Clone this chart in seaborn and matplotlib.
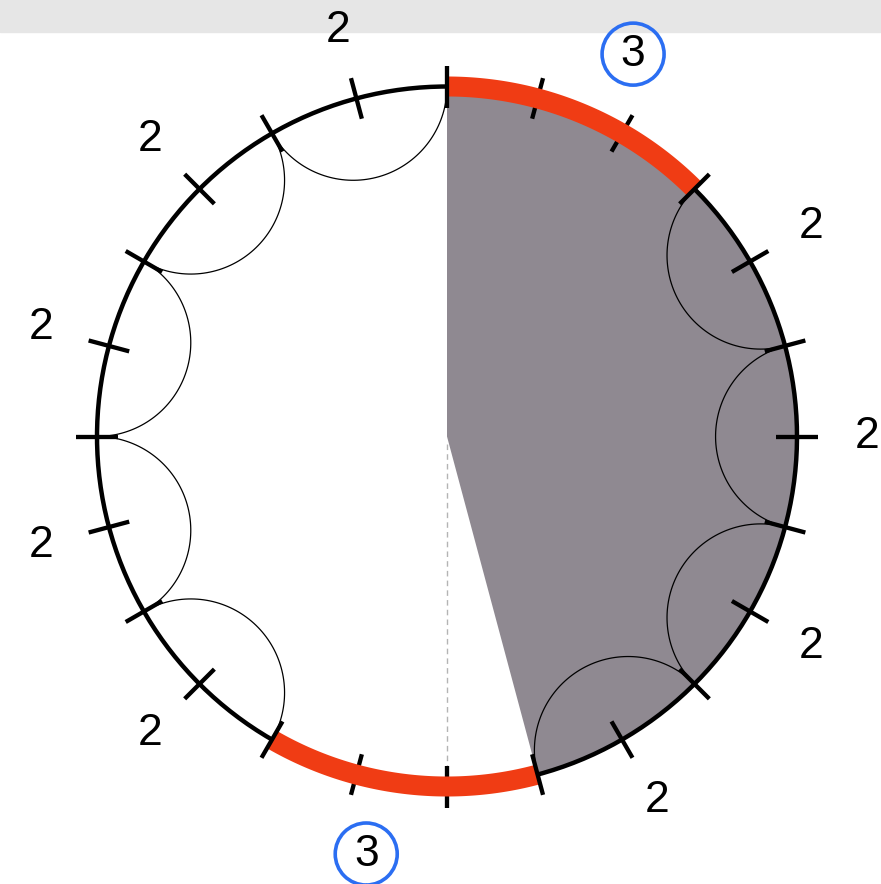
import numpy as np
import pandas as pd
import matplotlib.pyplot as plt
from matplotlib.patches import Polygon, Circle, Rectangle
import seaborn as sns

# circle cut into 24 equal steps, counted clockwise from the top
n_steps = 24
arc_sizes = [3, 2, 2, 2, 2, 3, 2, 2, 2, 2, 2]
arc_labels = ["3", "2", "2", "2", "2", "3", "2", "2", "2", "2", "2"]
shaded_steps = 11   # gray sector from the top, clockwise
cut_step = 12       # dashed radius


def pos(step, r=1.0):
    '''point on circle of radius r at a given step (clockwise from top)'''
    th = 2 * np.pi * np.asarray(step, dtype=float) / n_steps
    return r * np.sin(th), r * np.cos(th)


def geodesic(s0, s1, n=80):
    '''arc orthogonal to the unit circle joining steps s0 and s1'''
    half = np.pi * (s1 - s0) / n_steps
    cx, cy = pos((s0 + s1) / 2, 1 / np.cos(half))
    rho = np.tan(half)
    ax_, ay_ = pos(s0)
    bx_, by_ = pos(s1)
    pa = np.arctan2(ay_ - cy, ax_ - cx)
    pb = np.arctan2(by_ - cy, bx_ - cx)
    po = np.arctan2(-cy, -cx)
    d = (pb - pa) % (2 * np.pi)
    if (po - pa) % (2 * np.pi) < d:
        phi = np.linspace(pa, pa + d, n)
    else:
        phi = np.linspace(pa, pa - (2 * np.pi - d), n)
    return cx + rho * np.cos(phi), cy + rho * np.sin(phi)


sns.set_theme(style="white")
plt.rcParams['font.family'] = ['Liberation Sans', 'DejaVu Sans']

fig = plt.figure(figsize=(8.81, 8.84), dpi=100)
fig.patch.set_facecolor('white')
ax = fig.add_axes([0, 0, 1, 1])
ax.set_xlim(-447 / 350, 434 / 350)
ax.set_ylim(-447.5 / 350, 436.5 / 350)
ax.axis('off')

# light band at the top of the picture
ax.add_patch(Rectangle((0, 1 - 32 / 884), 1, 32 / 884, transform=ax.transAxes,
                       color='#e6e6e6', zorder=0, clip_on=False))

# shaded sector
s = np.linspace(0, shaded_steps, 200)
sx, sy = pos(s)
ax.add_patch(Polygon(np.column_stack([np.r_[0, sx], np.r_[0, sy]]),
                     closed=True, facecolor='#8f8991', edgecolor='none', zorder=1))

# dashed radius
dx, dy = pos([cut_step, cut_step], [0.02, 1.0])
ax.plot(dx, dy, color='#b4b4b4', lw=1.0, ls=(0, (4, 3)), zorder=2)

# boundaries between arcs
bounds = np.r_[0, np.cumsum(arc_sizes)]

# thin arcs inside every arc of size 2
rows = []
for i, size in enumerate(arc_sizes):
    if size == 2:
        gx, gy = geodesic(bounds[i], bounds[i + 1])
        rows.append(pd.DataFrame({'x': gx, 'y': gy, 'arc': i}))
geo = pd.concat(rows, ignore_index=True)
sns.lineplot(data=geo, x='x', y='y', units='arc', estimator=None, sort=False,
             color='black', linewidth=0.9, ax=ax, zorder=2)

# outer circle
t = np.linspace(0, n_steps, 400)
cx, cy = pos(t)
outer = pd.DataFrame({'x': cx, 'y': cy})
sns.lineplot(data=outer, x='x', y='y', estimator=None, sort=False,
             color='black', linewidth=3.2, ax=ax, zorder=3)

# ticks at every step
for step in range(n_steps):
    tx, ty = pos([step, step], [0.94, 1.06])
    on_bound = step in bounds
    ax.plot(tx, ty, color='black', lw=3.1, solid_capstyle='butt',
            zorder=6 if on_bound else 3.5)

# red bands on the arcs of size 3, circled labels
for i, size in enumerate(arc_sizes):
    mid = (bounds[i] + bounds[i + 1]) / 2
    if size == 3:
        rs = np.linspace(bounds[i], bounds[i + 1], 100)
        rx, ry = pos(rs)
        ax.plot(rx, ry, color='#f03c14', lw=14.4, solid_capstyle='butt', zorder=4)
        lx, ly = pos(mid + 0.23, 1.215)
        ax.add_patch(Circle((lx, ly), 31 / 350, facecolor='none',
                            edgecolor='#2b6ef2', lw=2.6, zorder=7, clip_on=False))
    else:
        lx, ly = pos(mid, 1.2)
    ax.text(lx, ly, arc_labels[i], ha='center', va='center', fontsize=32,
            color='black', zorder=8)

fig.savefig('out.png', dpi=100, facecolor='white')
